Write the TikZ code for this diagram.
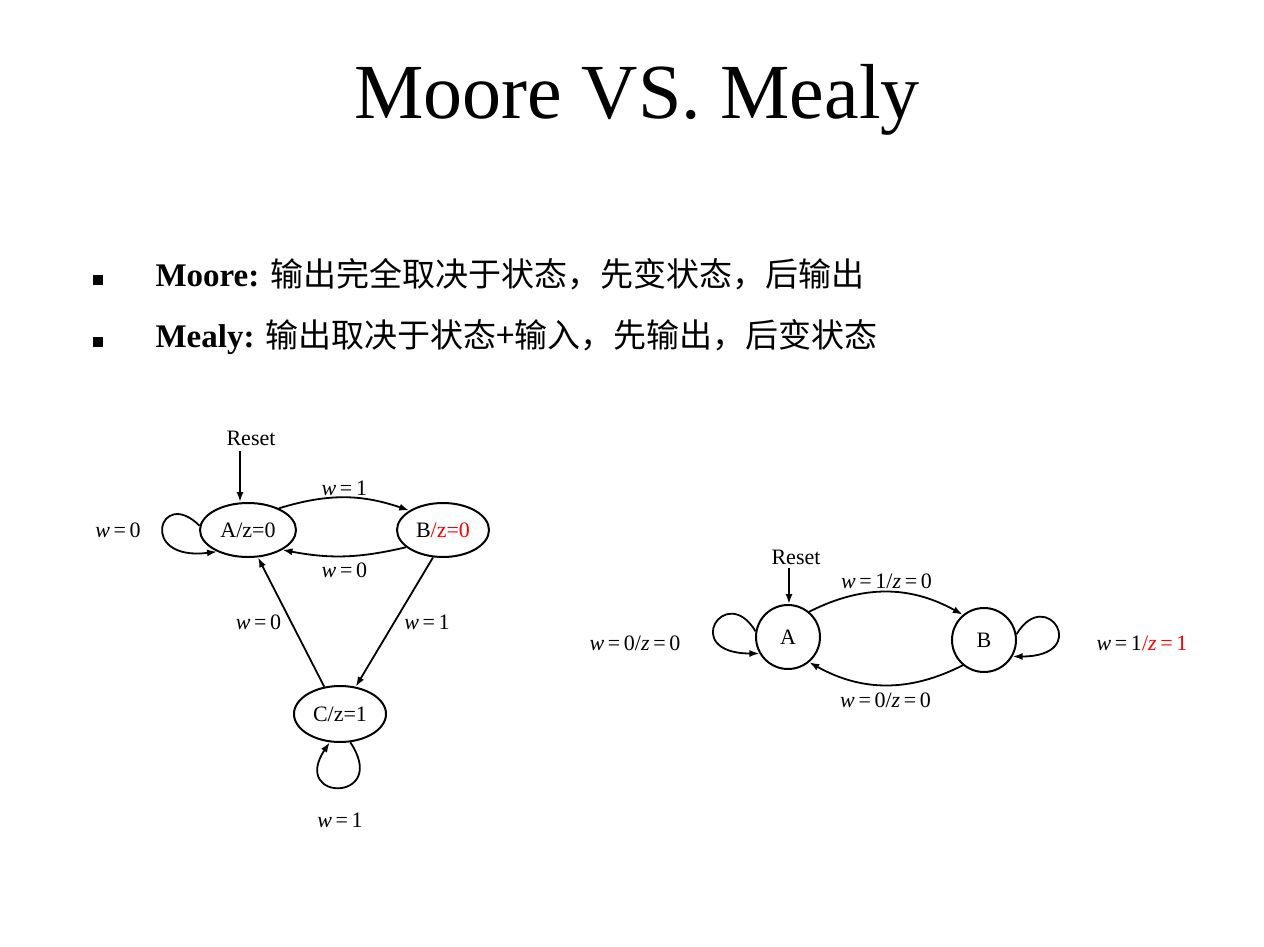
\documentclass[tikz,border=0pt]{standalone}
\usepackage{fontspec}
\setmainfont{Liberation Serif}
\newfontfamily\cjk{Noto Sans CJK SC}
\usetikzlibrary{arrows.meta,shapes.geometric}
\newcommand{\wv}[1]{\textit{w}\,=\,#1}
\newcommand{\zv}[1]{/\textit{z}\,=\,#1}
\begin{document}
\begin{tikzpicture}[x=1pt,y=-1pt,
  st/.style={draw,line width=2pt,ellipse,inner sep=0pt},
  lbl/.style={font=\fontsize{22}{24}\selectfont,inner sep=1pt},
  ar/.style={line width=1.8pt,-{Latex[length=10pt,width=7pt]}},
  bl/.style={fill=black,minimum size=10pt,inner sep=0pt}]
\useasboundingbox (0,0) rectangle (1264,947);
\node (title) at (637,100) {\fontsize{78}{84}\selectfont Moore VS. Mealy};
\node[bl] (b1) at (98,280) {};
\node[bl] (b2) at (98,342) {};
\node[anchor=west,font=\fontsize{33}{36}\selectfont] (t1) at (152,274) {\textbf{Moore:} {\cjk 输出完全取决于状态，先变状态，后输出}};
\node[anchor=west,font=\fontsize{33}{36}\selectfont] (t2) at (152,337) {\textbf{Mealy:} {\cjk 输出取决于状态+输入，先输出，后变状态}};
% Moore
\node[st,minimum width=96pt,minimum height=54pt,lbl] (A) at (248,530) {A/z=0};
\node[st,minimum width=92pt,minimum height=54pt,lbl] (B) at (443,530) {B\textcolor{red}{/z=0}};
\node[st,minimum width=92pt,minimum height=56pt,lbl] (C) at (340,714) {C/z=1};
\node[lbl] (r1) at (251,438) {Reset};
\coordinate (r1e) at (240,451);
\draw[ar] (r1e) -- (A.north-|r1e);
\draw[ar] (A.35) to[bend left=18] node[lbl,above] {\wv{1}} (B.150);
\draw[ar] (B.205) to[bend left=12] node[lbl,below=5pt] {\wv{0}} (A.330);
\draw[ar] (B.250) -- node[lbl,right=8pt] {\wv{1}} (C.60);
\draw[ar] (C.120) -- node[lbl,left=8pt] {\wv{0}} (A.290);
\draw[ar] (A.175) .. controls +(-40,-40) and +(-80,10) .. (A.215);
\node[lbl] (l1) at (118,530) {\wv{0}};
\draw[ar] (C.290) .. controls +(40,60) and +(-40,60) .. (C.250);
\node[lbl] (l2) at (340,820) {\wv{1}};
% Mealy
\node[st,circle,minimum size=64pt,lbl] (MA) at (788,637) {A};
\node[st,circle,minimum size=64pt,lbl] (MB) at (984,640) {B};
\node[lbl] (r2) at (796,557) {Reset};
\coordinate (r2e) at (789,568);
\draw[ar] (r2e) -- (MA.north-|r2e);
\draw[ar] (MA.50) to[bend left=28] node[lbl,above=1pt] {\wv{1}\zv{0}} (MB.130);
\draw[ar] (MB.230) to[bend left=28] node[lbl,below=6pt] {\wv{0}\zv{0}} (MA.310);
\draw[ar] (MA.170) .. controls +(-30,-50) and +(-80,0) .. (MA.210);
\node[lbl] (l3) at (635,643) {\wv{0}\zv{0}};
\draw[ar] (MB.10) .. controls +(30,-50) and +(80,0) .. (MB.330);
\node[lbl] (l4) at (1142,643) {\wv{1}\textcolor{red}{\zv{1}}};
\end{tikzpicture}
\end{document}
